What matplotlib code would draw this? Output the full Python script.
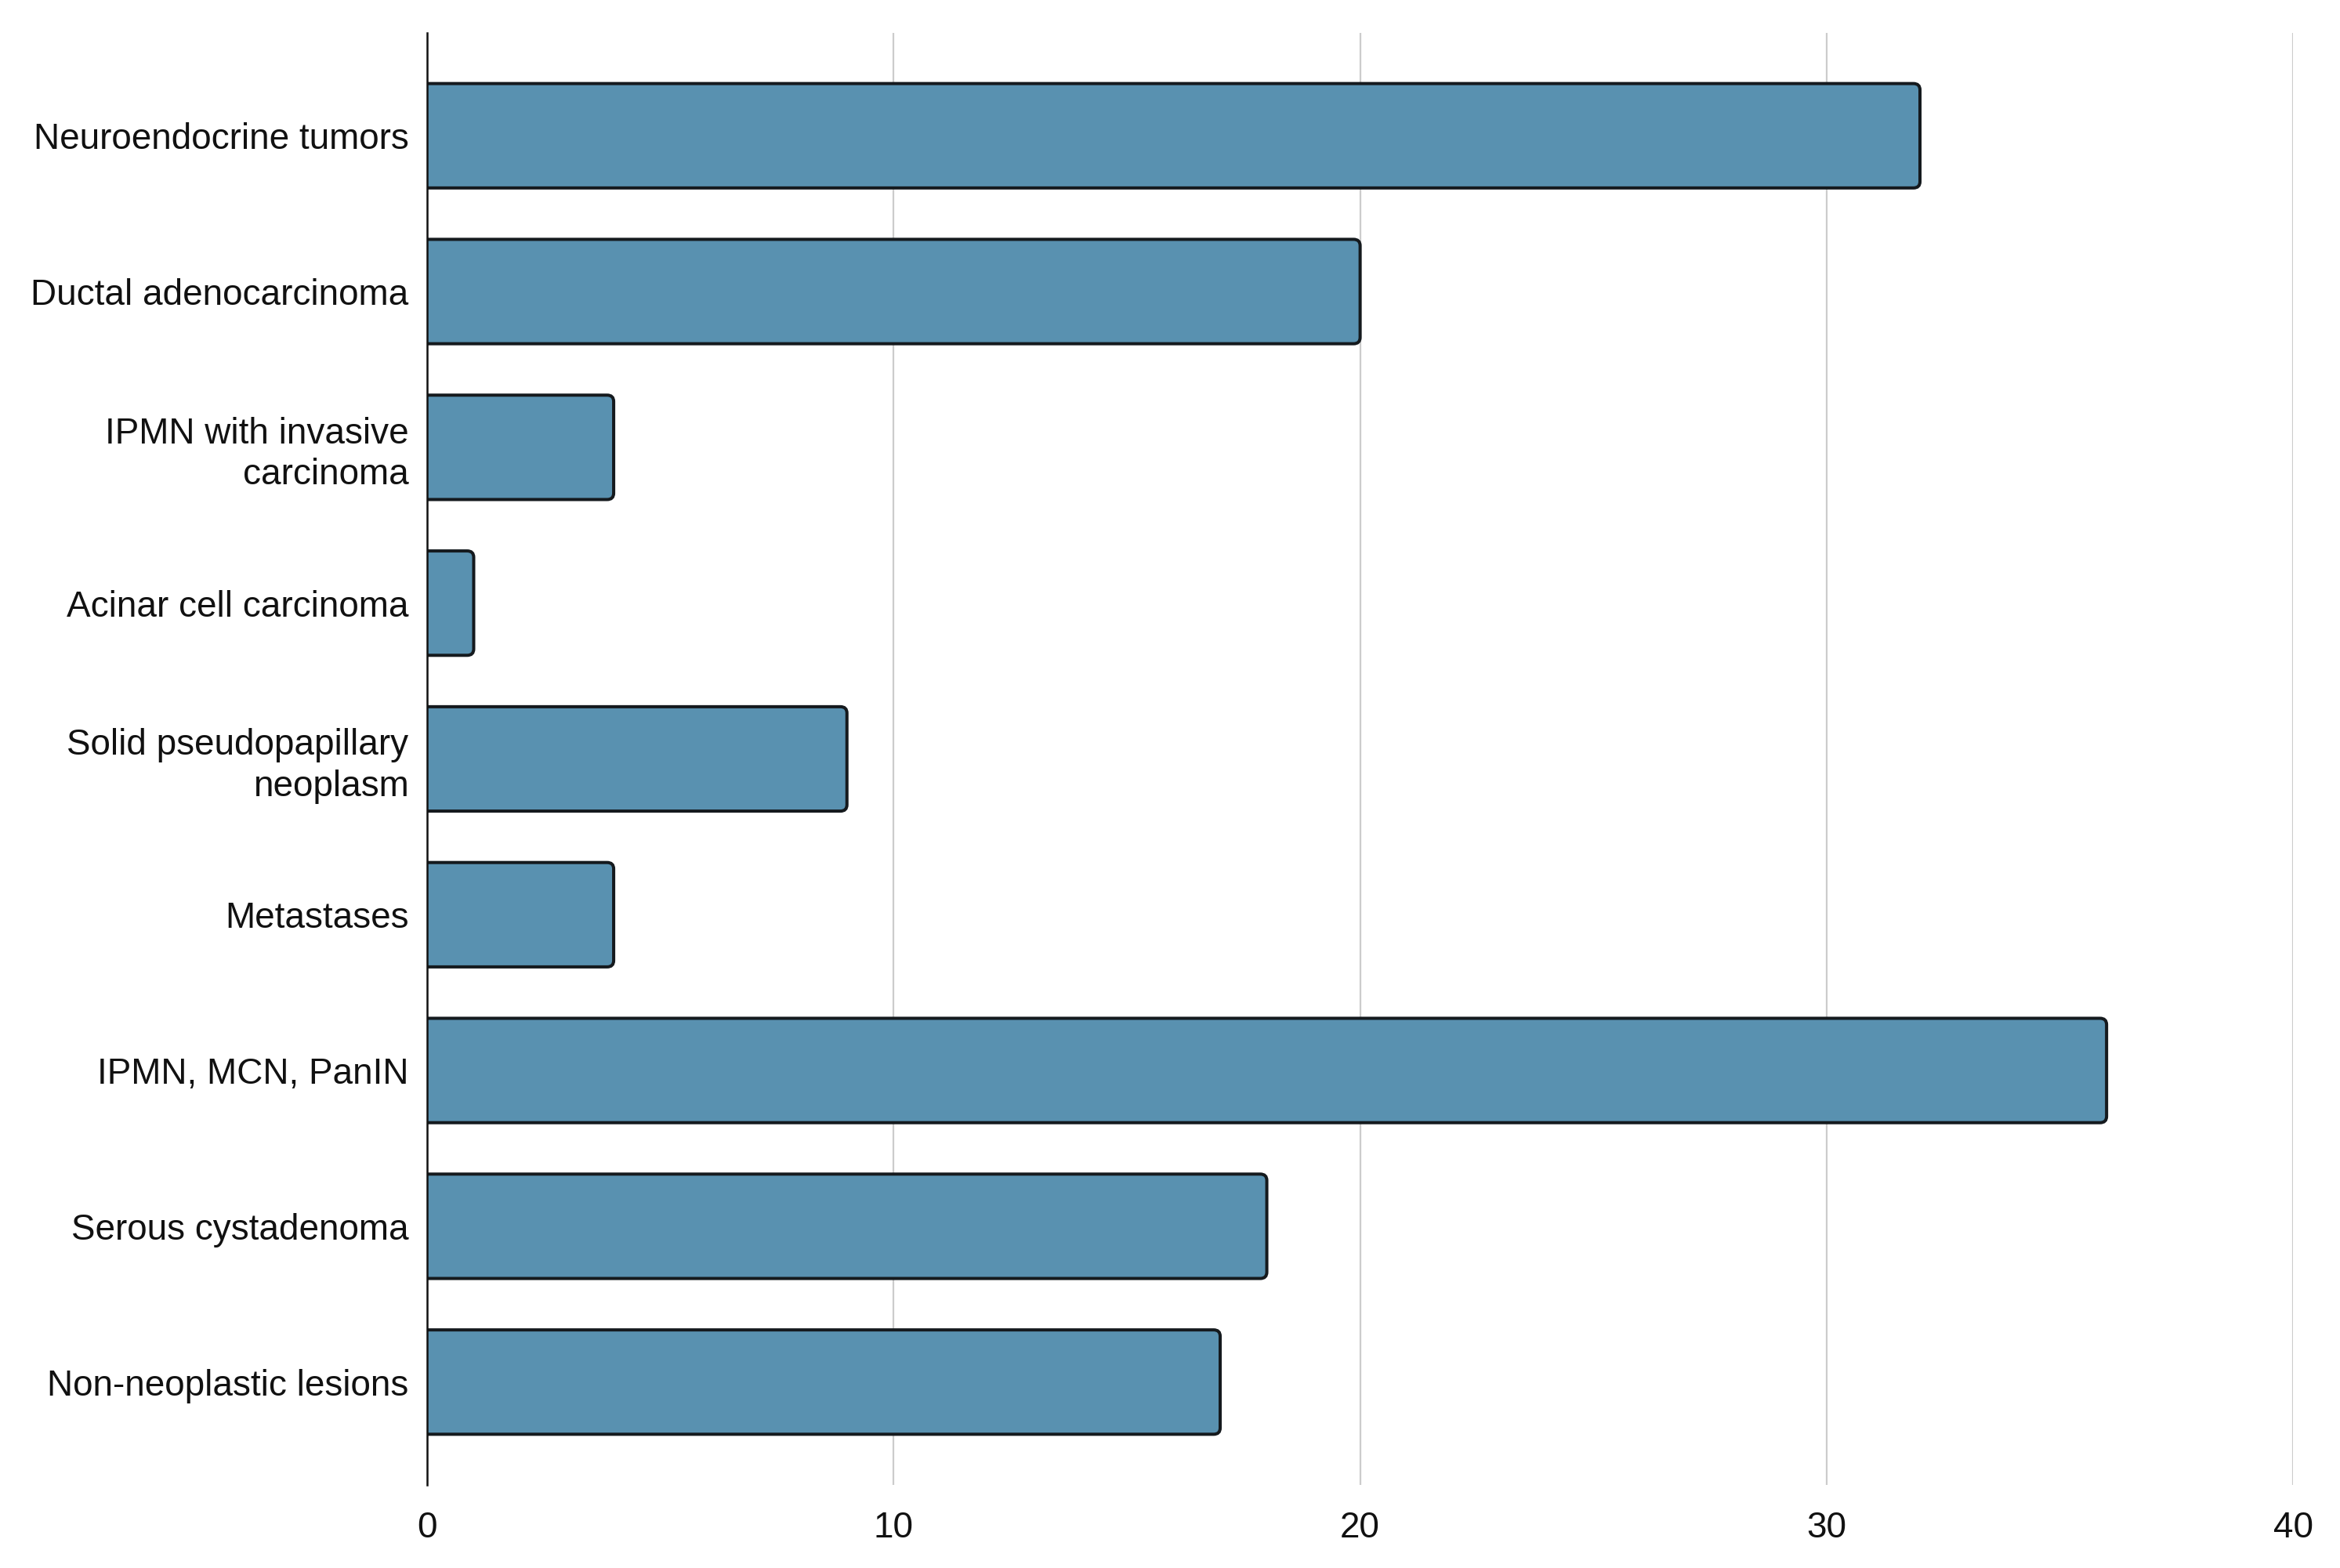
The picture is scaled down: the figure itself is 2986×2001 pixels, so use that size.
import matplotlib
matplotlib.use('Agg')
from matplotlib import pyplot as plt
from matplotlib.patches import FancyBboxPatch

categories = ['Neuroendocrine tumors', 'Ductal adenocarcinoma',
              'IPMN with invasive\ncarcinoma', 'Acinar cell carcinoma',
              'Solid pseudopapillary\nneoplasm', 'Metastases',
              'IPMN, MCN, PanIN', 'Serous cystadenoma',
              'Non-neoplastic lesions']
counts = [32, 20, 4, 1, 9, 4, 36, 18, 17]
xticks = [0, 10, 20, 30, 40]

plt.rcParams['font.family'] = ['Liberation Sans', 'DejaVu Sans']

fig = plt.figure(figsize=(29.86, 20.01), dpi=100)
ax = fig.add_axes([0.1825, 0.053, 0.7975, 0.926])

ypos = list(range(len(categories)))
bars = ax.barh(ypos, counts, height=0.67, color='#5991b0')

# swap the plain rectangles for ones with slightly rounded corners
# (start a bit left of 0 so the left corners get clipped off by the axes)
for r in bars.patches:
    x0, y0 = r.get_x(), r.get_y()
    w, h = r.get_width(), r.get_height()
    fb = FancyBboxPatch((x0 - 0.3, y0), w + 0.3, h,
                        boxstyle='round,pad=0,rounding_size=0.14',
                        mutation_aspect=0.29,
                        facecolor='#5991b0', edgecolor='#151a1e',
                        linewidth=2.9, zorder=3)
    ax.add_patch(fb)
    r.set_visible(False)

ax.set_xlim(0, 40)
ax.set_ylim(len(categories) - 1 + 0.66, -0.66)
ax.set_xticks(xticks)
ax.set_yticks(ypos)
ax.set_yticklabels(categories, ha='right', linespacing=1.25)

# only vertical grid lines
ax.grid(axis='x', color='#cccccc', linewidth=1.6, zorder=0)
for s in ['top', 'right', 'bottom']:
    ax.spines[s].set_visible(False)
ax.spines['left'].set_linewidth(1.8)
ax.spines['left'].set_color('#111111')
ax.spines['left'].set_zorder(4)

ax.tick_params(axis='both', length=0, labelsize=33, colors='#111111')
ax.tick_params(axis='y', pad=17)
ax.tick_params(axis='x', pad=24)

fig.savefig('out.png', dpi=100)
